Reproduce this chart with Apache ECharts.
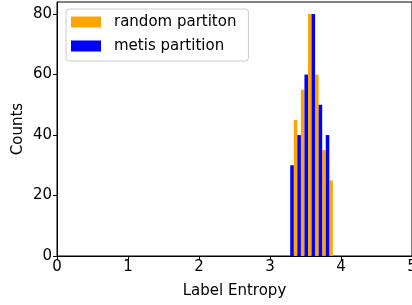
<!DOCTYPE html>
<html>
<head>
<meta charset="utf-8">
<script src="https://cdn.jsdelivr.net/npm/echarts@6/dist/echarts.min.js"></script>
<style>
  html, body { margin: 0; padding: 0; background: #fff; }
  #main { width: 412px; height: 305px; }
</style>
</head>
<body>
<div id="main"></div>
<script>
// bin centres and counts
var randomCenters = [3.36, 3.46, 3.56, 3.66, 3.76, 3.86];
var randomCounts = [45, 55, 80, 60, 35, 25];
var metisCenters = [3.31, 3.41, 3.51, 3.61, 3.71, 3.81];
var metisCounts = [30, 40, 60, 80, 50, 40];
var binWidth = 0.05;

var chart = echarts.init(document.getElementById("main"));

function toData(centers, counts) {
  return centers.map(function (c, i) {
    return [c - binWidth / 2, c + binWidth / 2, counts[i]];
  });
}

function renderBar(params, api) {
  var p0 = api.coord([api.value(0), api.value(2)]);
  var p1 = api.coord([api.value(1), 0]);
  return {
    type: "rect",
    shape: { x: p0[0], y: p0[1], width: p1[0] - p0[0], height: p1[1] - p0[1] },
    style: { fill: api.visual("color") }
  };
}

var font = "DejaVu Sans";

var option = {
  animation: false,
  textStyle: { fontFamily: font },
  grid: {
    left: 57, right: 0, top: 2, bottom: 49,
    outerBoundsMode: "none",
    containLabel: false,
    show: true, borderColor: "#000", borderWidth: 1
  },
  legend: {
    orient: "vertical",
    left: 66, top: 9,
    icon: "rect",
    itemWidth: 30, itemHeight: 11,
    itemGap: 8,
    padding: [5, 12, 7, 5],
    borderColor: "#cccccc", borderWidth: 1, borderRadius: 3,
    backgroundColor: "rgba(255,255,255,0.8)",
    textStyle: { fontSize: 15, color: "#000", lineHeight: 16, padding: [0, 0, 0, 8], fontFamily: font },
    data: ["random partiton", "metis partition"]
  },
  xAxis: {
    type: "value",
    min: 0, max: 5, interval: 1,
    name: "Label Entropy",
    nameLocation: "middle",
    nameGap: 28,
    nameMoveOverlap: false,
    nameTextStyle: { fontSize: 15, color: "#000", fontFamily: font },
    axisLine: { lineStyle: { color: "#000" } },
    axisTick: { length: 4, lineStyle: { color: "#000" } },
    axisLabel: { fontSize: 15, color: "#000", margin: 4, fontFamily: font },
    splitLine: { show: false }
  },
  yAxis: {
    type: "value",
    min: 0, max: 84, interval: 20,
    name: "Counts",
    nameLocation: "middle",
    nameGap: 31,
    nameMoveOverlap: false,
    nameTextStyle: { fontSize: 15, color: "#000", fontFamily: font },
    axisLine: { show: true, lineStyle: { color: "#000" } },
    axisTick: { show: true, length: 4, lineStyle: { color: "#000" } },
    axisLabel: { fontSize: 15, color: "#000", margin: 5, fontFamily: font,
      showMaxLabel: false },
    splitLine: { show: false }
  },
  series: [
    {
      name: "random partiton",
      type: "custom",
      renderItem: renderBar,
      itemStyle: { color: "#ffa500" },
      encode: { x: [0, 1], y: 2 },
      data: toData(randomCenters, randomCounts)
    },
    {
      name: "metis partition",
      type: "custom",
      renderItem: renderBar,
      itemStyle: { color: "#0000ff" },
      encode: { x: [0, 1], y: 2 },
      data: toData(metisCenters, metisCounts)
    }
  ]
};

chart.setOption(option);
</script>
</body>
</html>
